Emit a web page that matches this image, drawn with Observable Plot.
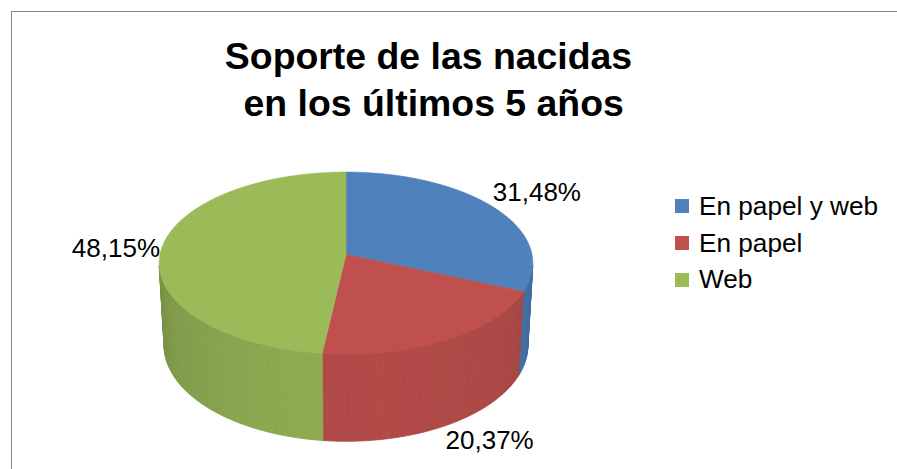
<!DOCTYPE html>
<html><head><meta charset="utf-8">
<script src="https://cdn.jsdelivr.net/npm/d3@7"></script>
<script src="https://cdn.jsdelivr.net/npm/@observablehq/plot@0.6"></script>
<style>
html,body{margin:0;padding:0;background:#fff;overflow:hidden;}
#chart{position:relative;width:897px;height:469px;overflow:hidden;font-family:"Liberation Sans",Arial,sans-serif;}
#frame{position:absolute;left:11px;top:11px;width:940px;height:540px;border:1.5px solid #888;box-sizing:border-box;}
#plot{position:absolute;left:0;top:0;}
#title{position:absolute;left:0;top:32.5px;width:857px;text-align:center;font-weight:bold;font-size:37.4px;line-height:47px;white-space:pre;color:#000;}
#legend{position:absolute;left:675px;top:188px;}
#legend .lg-swatches{margin:0 !important;font-family:"Liberation Sans",Arial,sans-serif !important;font-size:26.2px !important;color:#000;}
#legend .lg-swatch{height:36.8px !important;padding:0 !important;margin:0 !important;display:flex !important;align-items:center !important;}
#legend .lg-swatch svg{margin-right:10px !important;}
</style>
</head><body>
<div id="chart">
  <div id="frame"></div>
  <div id="plot"></div>
  <div id="title"></div>
  <div id="legend"></div>
</div>
<script>
// ---- data ----
const titleLines = ["Soporte de las nacidas", " en los últimos 5 años"];
const categories = ["En papel y web", "En papel", "Web"];
const values = [31.48, 20.37, 48.15];
const labels = ["31,48%", "20,37%", "48,15%"];
const colors = ["#4F81BD", "#C0504D", "#9BBB59"];

// ---- view (3D perspective) ----
const W = 897, H = 469;
const R = 186, CX = 345.5, CY = 254;
const TILT = 29 * Math.PI / 180, DIST = 9.33, DEPTH = 0.517;

function project(theta, h) {
  const t = theta * Math.PI / 180;
  const X = Math.sin(t), Z = -Math.cos(t);
  const d = h * Math.sin(TILT) + Z * Math.cos(TILT);
  const s = DIST / (DIST - d);
  return {x: X * s, y: (h * Math.cos(TILT) - Z * Math.sin(TILT)) * s};
}
function shade(color, theta) {
  const f = 0.78 + 0.14 * Math.cos((theta - 170) * Math.PI / 180);
  const c = d3.rgb(color);
  return d3.rgb(c.r * f, c.g * f, c.b * f).formatHex();
}

const total = d3.sum(values);
let acc = 0;
const slices = categories.map((c, i) => {
  const a0 = acc / total * 360; acc += values[i];
  const a1 = acc / total * 360;
  const mid = (a0 + a1) / 2;
  const front = mid > 90 && mid < 270;
  const p = project(mid, front ? -DEPTH : 0);
  return {category: c, i, a0, a1, mid, color: colors[i], label: labels[i], lx: p.x, ly: p.y};
});

// visible outer wall range
const vmin = Math.acos(-1 / (DIST * Math.cos(TILT))) * 180 / Math.PI;
const vmax = 360 - vmin;

const wallRows = [];
const topRows = [];
slices.forEach(s => {
  const lo = Math.max(s.a0, vmin), hi = Math.min(s.a1, vmax);
  for (let a = lo; a < hi; a += 1) {
    const b = Math.min(a + 1, hi);
    const id = `w${s.i}_${a}`;
    const fill = shade(s.color, (a + b) / 2);
    [[a, 0], [b, 0], [b, -DEPTH], [a, -DEPTH], [a, 0]].forEach(([t, h]) => {
      const p = project(t, h);
      wallRows.push({id, x: p.x, y: p.y, fill});
    });
  }
  const id = `t${s.i}`;
  topRows.push({id, x: 0, y: 0, fill: s.color});
  for (let a = s.a0; a < s.a1; a += 0.5) {
    const p = project(a, 0);
    topRows.push({id, x: p.x, y: p.y, fill: s.color});
  }
  const pe = project(s.a1, 0);
  topRows.push({id, x: pe.x, y: pe.y, fill: s.color});
  topRows.push({id, x: 0, y: 0, fill: s.color});
});

const lbl = (i, opts) => Plot.text(slices.filter(d => d.i === i), {
  x: "lx", y: "ly", text: "label", fontSize: 26, fill: "#000", lineAnchor: "middle", ...opts
});

const chart = Plot.plot({
  width: W, height: H,
  margin: 0,
  x: {domain: [-CX / R, (W - CX) / R], range: [0, W], axis: null},
  y: {domain: [(CY - H) / R, CY / R], range: [H, 0], axis: null},
  color: {type: "identity"},
  style: {fontFamily: "'Liberation Sans', Arial, sans-serif", background: "transparent", overflow: "visible"},
  marks: [
    Plot.line(wallRows, {x: "x", y: "y", z: "id", fill: "fill", stroke: "fill", strokeWidth: 0.8, curve: "linear"}),
    Plot.line(topRows, {x: "x", y: "y", z: "id", fill: "fill", stroke: "fill", strokeWidth: 0.6, curve: "linear"}),
    lbl(0, {textAnchor: "start", dx: -1, dy: -14.5}),
    lbl(1, {textAnchor: "start", dx: 1.2, dy: 14.5}),
    lbl(2, {textAnchor: "end", dx: -1.3, dy: -1})
  ]
});
document.getElementById("plot").appendChild(chart);

document.getElementById("title").textContent = titleLines.join("\n");

const legend = Plot.legend({
  legend: "swatches",
  color: {type: "ordinal", domain: categories, range: colors},
  columns: 1,
  swatchSize: 14,
  className: "lg"
});
document.getElementById("legend").appendChild(legend);
</script>
</body></html>
